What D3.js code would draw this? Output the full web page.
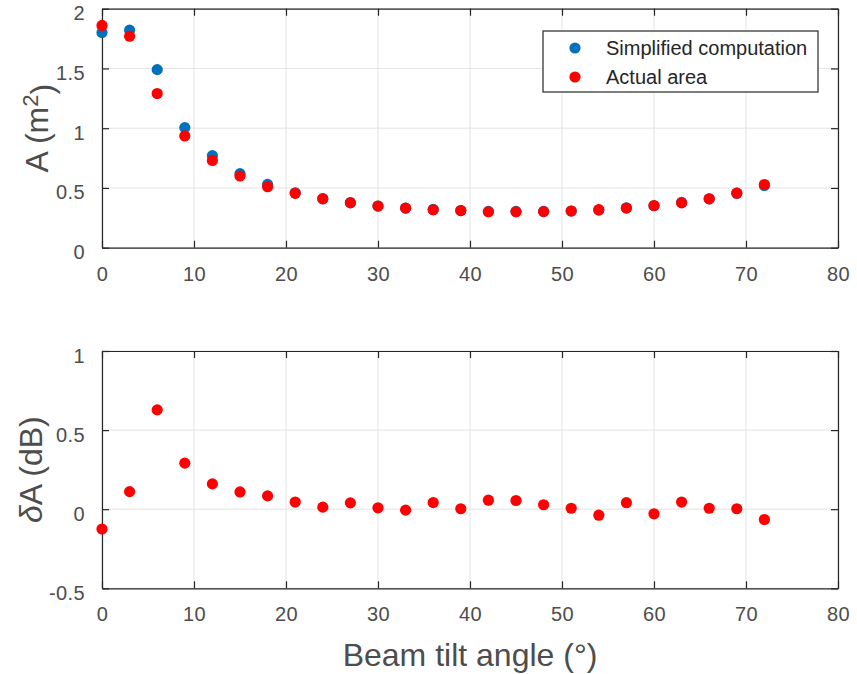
<!DOCTYPE html>
<html>
<head>
<meta charset="utf-8">
<script src="https://cdn.jsdelivr.net/npm/d3@7"></script>
<style>
	body { margin: 0; background: #fff; }
	text { font-family: "Liberation Sans", Arial, Helvetica, sans-serif; }
	.tick-label text { font-size: 20px; fill: #4d4d4d; letter-spacing: 0.4px; }
	.axis-label { font-size: 32px; fill: #4d4d4d; }
	.legend-text { font-size: 20px; fill: #262626; }
</style>
</head>
<body>
<svg id="chart" width="857" height="674"></svg>
<script>
//////////////////////// Data ////////////////////////

var angles = [0, 3, 6, 9, 12, 15, 18, 21, 24, 27, 30, 33, 36, 39, 42, 45, 48, 51, 54, 57, 60, 63, 66, 69, 72];

//Simplified computation (blue)
var simplified = [1.80, 1.82, 1.49, 1.005, 0.77, 0.62, 0.53, 0.46, 0.41, 0.378, 0.349, 0.331, 0.32, 0.311, 0.304, 0.304, 0.304, 0.307, 0.315, 0.334, 0.351, 0.379, 0.409, 0.456, 0.521];

//Actual area (red)
var actual = [1.86, 1.77, 1.29, 0.935, 0.73, 0.60, 0.51, 0.455, 0.409, 0.375, 0.348, 0.331, 0.317, 0.311, 0.30, 0.30, 0.302, 0.307, 0.318, 0.331, 0.353, 0.375, 0.409, 0.456, 0.529];

//Difference in dB
var deltaA = [-0.125, 0.111, 0.628, 0.291, 0.160, 0.109, 0.084, 0.045, 0.013, 0.04, 0.009, -0.006, 0.042, 0.003, 0.057, 0.055, 0.028, 0.006, -0.038, 0.041, -0.029, 0.045, 0.006, 0.003, -0.065];

var xTicks = [0, 10, 20, 30, 40, 50, 60, 70, 80],
	topYTicks = [0, 0.5, 1, 1.5, 2],
	bottomYTicks = [-0.5, 0, 0.5, 1];

var legendNames = ["Simplified computation", "Actual area"],
	blue = "#0072BD",
	red = "#FF0000";

//////////////////////// Setup ////////////////////////

var svg = d3.select("#chart");

var left = 102, right = 838;
var x = d3.scaleLinear().domain([0, 80]).range([left, right]);

var topPanel = { top: 8.7, bottom: 247.7, y: d3.scaleLinear().domain([0, 2]) },
	bottomPanel = { top: 351, bottom: 588.3, y: d3.scaleLinear().domain([-0.5, 1]) };
topPanel.y.range([topPanel.bottom, topPanel.top]);
bottomPanel.y.range([bottomPanel.bottom, bottomPanel.top]);

var tickLen = 7,
	dotR = 5.6;

function drawPanel(panel, yTicks) {
	var g = svg.append("g");

	//Grid lines
	g.append("g").selectAll("line")
		.data(xTicks)
		.enter().append("line")
		.attr("x1", function(d) { return x(d); })
		.attr("x2", function(d) { return x(d); })
		.attr("y1", panel.top)
		.attr("y2", panel.bottom)
		.style("stroke", "#e3e3e3")
		.style("stroke-width", 1);
	g.append("g").selectAll("line")
		.data(yTicks)
		.enter().append("line")
		.attr("x1", left)
		.attr("x2", right)
		.attr("y1", function(d) { return panel.y(d); })
		.attr("y2", function(d) { return panel.y(d); })
		.style("stroke", "#e3e3e3")
		.style("stroke-width", 1);

	//Axes with inward ticks, box on all four sides
	var xAxis = g.append("g")
		.attr("class", "tick-label")
		.attr("transform", "translate(0," + panel.bottom + ")")
		.call(d3.axisBottom(x).tickValues(xTicks).tickSizeInner(-tickLen).tickSizeOuter(0).tickPadding(19 + tickLen));
	g.append("g")
		.attr("transform", "translate(0," + panel.top + ")")
		.call(d3.axisTop(x).tickValues(xTicks).tickSizeInner(-tickLen).tickSizeOuter(0).tickFormat(""));
	var yAxis = g.append("g")
		.attr("class", "tick-label")
		.attr("transform", "translate(" + left + ",0)")
		.call(d3.axisLeft(panel.y).tickValues(yTicks).tickSizeInner(-tickLen).tickSizeOuter(0).tickPadding(10 + tickLen).tickFormat(d3.format("")));
	g.append("g")
		.attr("transform", "translate(" + right + ",0)")
		.call(d3.axisRight(panel.y).tickValues(yTicks).tickSizeInner(-tickLen).tickSizeOuter(0).tickFormat(""));

	yAxis.selectAll("text").attr("dy", "0.55em");
	xAxis.selectAll("text").attr("dy", "0.35em");

	g.selectAll(".domain, .tick line")
		.style("stroke", "#262626")
		.style("stroke-width", 1.2);
	g.selectAll(".tick text").text(function() { return d3.select(this).text().replace("\u2212", "-"); });

	return g;
}

//////////////////////// Top panel ////////////////////////

var topG = drawPanel(topPanel, topYTicks);

topG.append("g").selectAll("circle")
	.data(angles)
	.enter().append("circle")
	.attr("cx", function(d) { return x(d); })
	.attr("cy", function(d, i) { return topPanel.y(simplified[i]); })
	.attr("r", dotR)
	.style("fill", blue);

topG.append("g").selectAll("circle")
	.data(angles)
	.enter().append("circle")
	.attr("cx", function(d) { return x(d); })
	.attr("cy", function(d, i) { return topPanel.y(actual[i]); })
	.attr("r", dotR)
	.style("fill", red);

//Y label
var topLabel = svg.append("text")
	.attr("class", "axis-label")
	.attr("transform", "translate(" + 48 + "," + (topPanel.top + topPanel.bottom) / 2 + ") rotate(-90)")
	.style("text-anchor", "middle");
topLabel.append("tspan").text("A (m");
topLabel.append("tspan").attr("dy", "-0.45em").style("font-size", "22px").text("2");
topLabel.append("tspan").attr("dy", "0.45em").text(")");

//Legend
var legend = svg.append("g").attr("transform", "translate(" + 543 + "," + 31 + ")");
legend.append("rect")
	.attr("width", 275)
	.attr("height", 61)
	.style("fill", "#fff")
	.style("stroke", "#262626")
	.style("stroke-width", 1.2);
var legendRow = legend.selectAll(".legend-row")
	.data(legendNames)
	.enter().append("g")
	.attr("class", "legend-row")
	.attr("transform", function(d, i) { return "translate(0," + (17 + i * 29) + ")"; });
legendRow.append("circle")
	.attr("cx", 32)
	.attr("r", dotR)
	.style("fill", function(d, i) { return i === 0 ? blue : red; });
legendRow.append("text")
	.attr("class", "legend-text")
	.attr("x", 63)
	.attr("dy", "0.35em")
	.text(function(d) { return d; });

//////////////////////// Bottom panel ////////////////////////

var bottomG = drawPanel(bottomPanel, bottomYTicks);

bottomG.append("g").selectAll("circle")
	.data(angles)
	.enter().append("circle")
	.attr("cx", function(d) { return x(d); })
	.attr("cy", function(d, i) { return bottomPanel.y(deltaA[i]); })
	.attr("r", dotR)
	.style("fill", red);

var bottomLabel = svg.append("text")
	.attr("class", "axis-label")
	.attr("transform", "translate(" + 42 + "," + (bottomPanel.top + bottomPanel.bottom) / 2 + ") rotate(-90)")
	.style("text-anchor", "middle");
bottomLabel.append("tspan").style("font-style", "italic").text("\u03b4");
bottomLabel.append("tspan").text("A (dB)");

//X label
svg.append("text")
	.attr("class", "axis-label")
	.attr("x", (left + right) / 2)
	.attr("y", 655)
	.attr("dy", "0.35em")
	.style("text-anchor", "middle")
	.text("Beam tilt angle (\u00b0)");
</script>
</body>
</html>
